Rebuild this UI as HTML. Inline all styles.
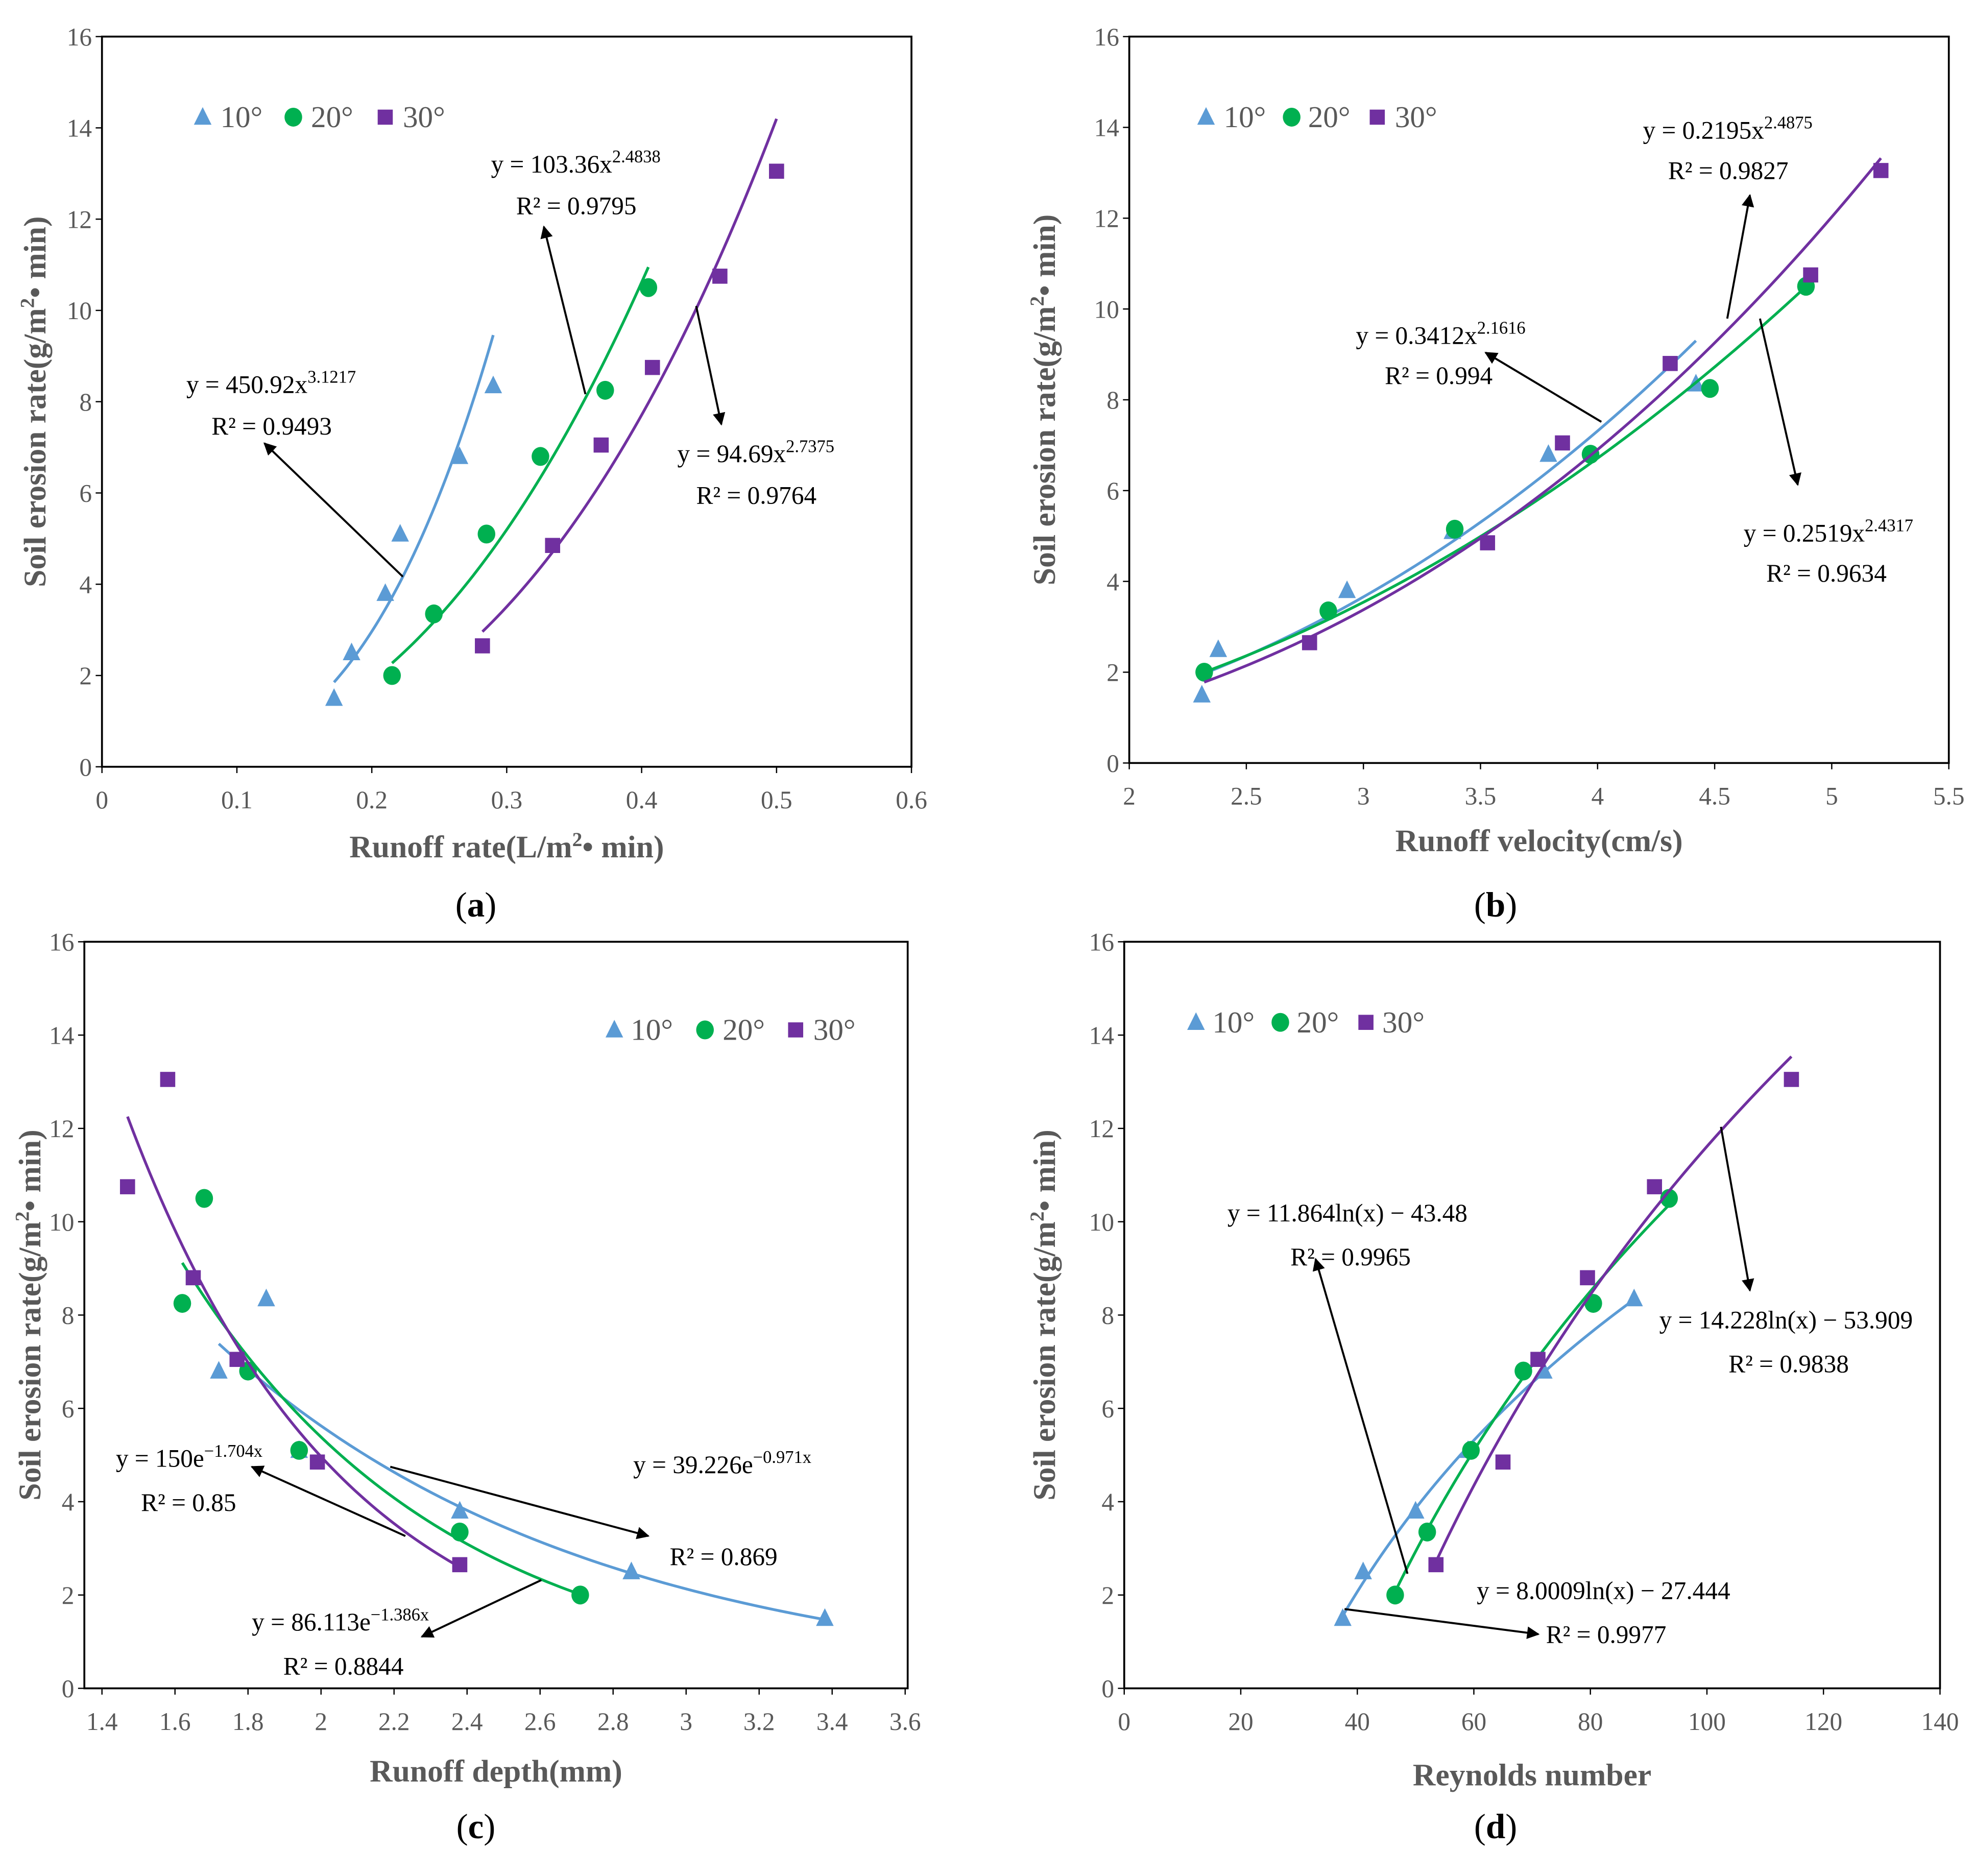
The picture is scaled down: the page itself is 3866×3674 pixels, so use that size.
<!DOCTYPE html>
<html><head><meta charset="utf-8"><style>
html,body{margin:0;padding:0;background:#fff}
svg{display:block}
text{font-family:"Liberation Serif",serif}
</style></head><body>
<svg id="fig" xmlns="http://www.w3.org/2000/svg" width="3866" height="3674" viewBox="0 0 1568 1490">
<defs><marker id="ah" markerWidth="10" markerHeight="10" refX="9" refY="5" orient="auto" markerUnits="userSpaceOnUse"><path d="M0,0 L10,5 L0,10 z" fill="#000"/></marker></defs>
</svg>
<script>
const BLUE="#5b9bd5",GREEN="#00b050",PURPLE="#7030a0";
// Panel a: runoff rate
const aX10=[0.172,0.185,0.21,0.221,0.265,0.29], aY10=[1.5,2.5,3.8,5.1,6.8,8.35];
const aX20=[0.215,0.246,0.285,0.325,0.373,0.405], aY20=[2.0,3.35,5.1,6.8,8.25,10.5];
const aX30=[0.282,0.334,0.37,0.408,0.458,0.5], aY30=[2.65,4.85,7.05,8.75,10.75,13.05];
const aFit10=[450.92,3.1217], aFit20=[103.36,2.4838], aFit30=[94.69,2.7375];
const aXTicks=["0","0.1","0.2","0.3","0.4","0.5","0.6"];
// Panel b: runoff velocity
const bX10=[2.31,2.38,2.93,3.38,3.79,4.42], bY10=[1.5,2.5,3.8,5.1,6.8,8.35];
const bX20=[2.32,2.85,3.39,3.97,4.48,4.89], bY20=[2.0,3.35,5.15,6.8,8.25,10.5];
const bX30=[2.77,3.53,3.85,4.31,4.91,5.21], bY30=[2.65,4.85,7.05,8.8,10.75,13.05];
const bFit10=[0.26,2.407], bFit20=[0.308,2.223], bFit30=[0.2195,2.4875];
const bXTicks=["2","2.5","3","3.5","4","4.5","5","5.5"];
// Panel c: runoff depth
const cX10=[1.72,1.85,1.94,2.38,2.85,3.38], cY10=[6.8,8.35,5.1,3.8,2.5,1.5];
const cX20=[1.62,1.68,1.8,1.94,2.38,2.71], cY20=[8.25,10.5,6.8,5.1,3.35,2.0];
const cX30=[1.47,1.58,1.65,1.77,1.99,2.38], cY30=[10.75,13.05,8.8,7.05,4.85,2.65];
const cFit10=[39.226,-0.971], cFit20=[86.113,-1.386], cFit30=[150,-1.704];
const cXTicks=["1.4","1.6","1.8","2","2.2","2.4","2.6","2.8","3","3.2","3.4","3.6"];
// Panel d: Reynolds number
const dX10=[37.5,41,50,59,72,87.5], dY10=[1.5,2.5,3.8,5.1,6.8,8.35];
const dX20=[46.5,52,59.5,68.5,80.5,93.5], dY20=[2.0,3.35,5.1,6.8,8.25,10.5];
const dX30=[53.5,65,71,79.5,91,114.5], dY30=[2.65,4.85,7.05,8.8,10.75,13.05];
const dFit10=[8.0009,-27.444], dFit20=[11.864,-43.48], dFit30=[14.228,-53.909];
const dXTicks=["0","20","40","60","80","100","120","140"];
const yTicks=["0","2","4","6","8","10","12","14","16"];

const svg=document.getElementById('fig'),NS="http://www.w3.org/2000/svg";
function el(tag,attrs,parent,txt){const e=document.createElementNS(NS,tag);for(const k in attrs)e.setAttribute(k,attrs[k]);if(txt!==undefined)e.textContent=txt;(parent||svg).appendChild(e);return e;}
function txt(parent,x,y,s,opts){const t=el('text',Object.assign({x:x,y:y,'font-size':20,fill:'#000'},opts||{}),parent);t.innerHTML=s;return t;}

function panel(cfg){
 const g=el('g',{});
 
 
 const xl=cfg.xL!==undefined?cfg.xL:cfg.L, xr=cfg.xR!==undefined?cfg.xR:cfg.R;
 const X=v=>xl+(v-cfg.x0)/(cfg.x1-cfg.x0)*(xr-xl);
 const Y=v=>cfg.B-v/16*(cfg.B-cfg.T);
 const fr=el('rect',{x:cfg.L,y:cfg.T,width:cfg.R-cfg.L,height:cfg.B-cfg.T,fill:'none',stroke:'#000','stroke-width':1.5},g);
 
 
 const yt=el('g',{},g);
 
 
 yTicks.forEach(s=>{const v=+s;el('line',{x1:cfg.L-5,x2:cfg.L,y1:Y(v),y2:Y(v),stroke:'#000'},yt);txt(yt,cfg.L-8,Y(v)+7,s,{'text-anchor':'end',fill:'#595959'});});
 const xt=el('g',{},g);
 
 
 cfg.xt.forEach(s=>{const v=+s;el('line',{x1:X(v),x2:X(v),y1:cfg.B,y2:cfg.B+5,stroke:'#000'},xt);txt(xt,X(v),cfg.B+33,s,{'text-anchor':'middle',fill:'#595959'});});
 const xtl=txt(g,(cfg.L+cfg.R)/2,cfg.xtY,cfg.xTitle,{'text-anchor':'middle','font-size':25,'font-weight':'bold',fill:'#595959'});
 
 
 const ytl=txt(g,0,0,'Soil erosion rate(g/m<tspan font-size="16" dy="-9">2</tspan><tspan dy="9">• min)</tspan>',{'text-anchor':'middle','font-size':25,'font-weight':'bold',fill:'#595959',transform:`translate(${cfg.ytX},${(cfg.T+cfg.B)/2}) rotate(-90)`});
 
 
 const series=[[cfg.x10,cfg.y10,cfg.f10,BLUE,'tri','10'],[cfg.x20,cfg.y20,cfg.f20,GREEN,'cir','20'],[cfg.x30,cfg.y30,cfg.f30,PURPLE,'sq','30']];
 series.forEach(([xs,ys,f,col,shape,nm])=>{
  const lo=Math.min(...xs),hi=Math.max(...xs);
  const start=cfg.fitStart&&cfg.fitStart[nm]?cfg.fitStart[nm]:lo;
  let d='';for(let i=0;i<=60;i++){const x=start+(hi-start)*i/60;const y=cfg.fn(f,x);d+=(i?'L':'M')+X(x).toFixed(2)+','+Y(y).toFixed(2);}
  const p=el('path',{d:d,fill:'none',stroke:col,'stroke-width':2.2},g);
  
  
  xs.forEach((x,i)=>{const m=marker(g,shape,X(x),Y(ys[i]),col);
   
   });
 });
 const lg=el('g',{},g);
 
 
 [['tri',BLUE,'10°'],['cir',GREEN,'20°'],['sq',PURPLE,'30°']].forEach(([s,c,l],i)=>{
  const [mx,tx]=cfg.leg[i];
  const e=el('g',{},lg);
  
  
  marker(e,s,mx,cfg.legY,c);txt(e,tx,cfg.legY+8,l,{'font-size':24,fill:'#595959'});
 });
 cfg.ann.forEach(a=>{
  const ag=el('g',{},g);
  
  
  el('line',{x1:a.l[0],y1:a.l[1],x2:a.l[2],y2:a.l[3],stroke:'#000','stroke-width':1.6,'marker-end':'url(#ah)'},ag);
  txt(ag,a.t[0],a.t[1],a.eq);txt(ag,a.r[0],a.r[1],a.r2);
 });
 const lab=txt(g,cfg.labX,cfg.labY,'(<tspan font-weight="bold">'+cfg.id+'</tspan>)',{'text-anchor':'middle','font-size':28});
 
 
}
function marker(g,shape,x,y,c){
 if(shape==='tri')return el('path',{d:`M${x},${y-8} L${x+7},${y+6} L${x-7},${y+6} z`,fill:c},g);
 if(shape==='cir')return el('ellipse',{cx:x,cy:y,rx:7,ry:7.5,fill:c},g);
 return el('rect',{x:x-6,y:y-6,width:12,height:12,fill:c},g);
}
const pow=(f,x)=>f[0]*Math.pow(x,f[1]), ex=(f,x)=>f[0]*Math.exp(f[1]*x), lg=(f,x)=>f[0]*Math.log(x)+f[1];
const sup=(a,b)=>a+'<tspan font-size="14" dy="-8">'+b+'</tspan>';
panel({id:'a',L:81,R:724,T:29,B:609,x0:0,x1:0.6,xt:aXTicks,xTitle:'Runoff rate(L/m<tspan font-size="16" dy="-9">2</tspan><tspan dy="9">• min)</tspan>',xtY:681,ytX:36,
 x10:aX10,y10:aY10,x20:aX20,y20:aY20,x30:aX30,y30:aY30,f10:aFit10,f20:aFit20,f30:aFit30,fn:pow,
 leg:[[161,175],[233,247],[306,320]],legY:93,labX:378,labY:728,
 ann:[{l:[320,458,210,352],t:[148,312],eq:sup('y = 450.92x','3.1217'),r:[168,345],r2:'R² = 0.9493'},
 {l:[465,313,432,180],t:[390,137],eq:sup('y = 103.36x','2.4838'),r:[410,170],r2:'R² = 0.9795'},
 {l:[553,243,573,337],t:[538,367],eq:sup('y = 94.69x','2.7375'),r:[553,400],r2:'R² = 0.9764'}]});
panel({id:'b',L:897,R:1548,T:29,B:606,x0:2,x1:5.5,xt:bXTicks,xTitle:'Runoff velocity(cm/s)',xtY:676,ytX:838,
 x10:bX10,y10:bY10,x20:bX20,y20:bY20,x30:bX30,y30:bY30,f10:bFit10,f20:bFit20,f30:bFit30,fn:pow,fitStart:{'30':2.32},
 leg:[[958,972],[1026,1039],[1094,1108]],legY:93,labX:1188,labY:728,
 ann:[{l:[1272,335,1180,280],t:[1077,273],eq:sup('y = 0.3412x','2.1616'),r:[1100,305],r2:'R² = 0.994'},
 {l:[1372,253,1390,155],t:[1305,110],eq:sup('y = 0.2195x','2.4875'),r:[1325,142],r2:'R² = 0.9827'},
 {l:[1398,253,1428,385],t:[1385,430],eq:sup('y = 0.2519x','2.4317'),r:[1403,462],r2:'R² = 0.9634'}]});
panel({id:'c',L:67,R:721,xL:81,xR:719,T:748,B:1341,x0:1.4,x1:3.6,xt:cXTicks,xTitle:'Runoff depth(mm)',xtY:1415,ytX:32,
 x10:cX10,y10:cY10,x20:cX20,y20:cY20,x30:cX30,y30:cY30,f10:cFit10,f20:cFit20,f30:cFit30,fn:ex,
 leg:[[488,501],[560,574],[632,646]],legY:818,labX:378,labY:1460,
 ann:[{l:[322,1220,200,1165],t:[92,1165],eq:sup('y = 150e','−1.704x'),r:[112,1200],r2:'R² = 0.85'},
 {l:[310,1165,515,1220],t:[503,1170],eq:sup('y = 39.226e','−0.971x'),r:[532,1243],r2:'R² = 0.869'},
 {l:[430,1255,335,1300],t:[200,1295],eq:sup('y = 86.113e','−1.386x'),r:[225,1330],r2:'R² = 0.8844'}]});
panel({id:'d',L:893,R:1541,T:748,B:1341,x0:0,x1:140,xt:dXTicks,xTitle:'Reynolds number',xtY:1418,ytX:838,
 x10:dX10,y10:dY10,x20:dX20,y20:dY20,x30:dX30,y30:dY30,f10:dFit10,f20:dFit20,f30:dFit30,fn:lg,
 leg:[[950,963],[1017,1030],[1085,1098]],legY:812,labX:1188,labY:1460,
 ann:[{l:[1118,1250,1045,1000],t:[975,970],eq:'y = 11.864ln(x) − 43.48',r:[1025,1005],r2:'R² = 0.9965'},
 {l:[1367,895,1390,1025],t:[1318,1055],eq:'y = 14.228ln(x) − 53.909',r:[1373,1090],r2:'R² = 0.9838'},
 {l:[1068,1278,1222,1298],t:[1173,1270],eq:'y = 8.0009ln(x) − 27.444',r:[1228,1305],r2:'R² = 0.9977'}]});
</script>
</body></html>
